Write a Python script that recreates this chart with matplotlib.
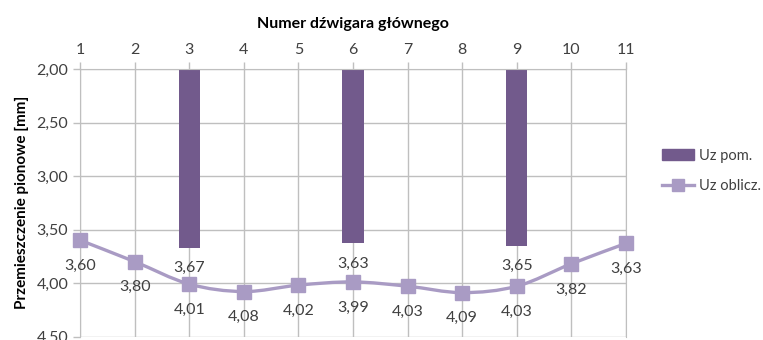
import numpy as np
import matplotlib.pyplot as plt
from matplotlib.path import Path
from matplotlib.patches import PathPatch, Patch
from matplotlib.lines import Line2D

plt.rcParams['font.family'] = ['Lato', 'DejaVu Sans']

girders = [1, 2, 3, 4, 5, 6, 7, 8, 9, 10, 11]
uz_calc = [3.60, 3.80, 4.01, 4.08, 4.02, 3.99, 4.03, 4.09, 4.03, 3.82, 3.63]
meas_girders = [3, 6, 9]
uz_meas = [3.67, 3.63, 3.65]

bar_color = '#725A8C'
line_color = '#A99BC4'
text_color = '#404040'
grid_color = '#BFBFBF'
y_min, y_max = 2.0, 4.5


def fmt(v):
    return f"{v:.2f}".replace('.', ',')


def smooth_path(xs, ys, t=1 / 6):
    # cubic Bezier through the points (Catmull-Rom style tangents)
    pts = np.column_stack([xs, ys]).astype(float)
    verts = [pts[0]]
    codes = [Path.MOVETO]
    n = len(pts)
    for i in range(n - 1):
        p0 = pts[i - 1] if i > 0 else pts[i]
        p1, p2 = pts[i], pts[i + 1]
        p3 = pts[i + 2] if i + 2 < n else pts[i + 1]
        verts += [p1 + (p2 - p0) * t, p2 - (p3 - p1) * t, p2]
        codes += [Path.CURVE4] * 3
    return Path(verts, codes)


fig = plt.figure(figsize=(7.63, 3.40), dpi=100)
ax = fig.add_axes([80 / 763, 1 - 336.5 / 340, (626 - 80) / 763, (336.5 - 69) / 340])

ax.bar(meas_girders, [v - y_min for v in uz_meas], bottom=y_min, width=0.39,
       color=bar_color, zorder=2)
for x, v in zip(meas_girders, uz_meas):
    ax.annotate(fmt(v), (x, v), xytext=(0, -14.5), textcoords='offset points',
                ha='center', va='center', fontsize=11.5, color=text_color)

ax.add_patch(PathPatch(smooth_path(girders, uz_calc), fill=False,
                       edgecolor=line_color, lw=2.4, zorder=3, clip_on=False))
ax.plot(girders, uz_calc, ls='none', marker='s', ms=9.5, color=line_color,
        zorder=4, clip_on=False)
for x, v in zip(girders, uz_calc):
    ax.annotate(fmt(v), (x, v), xytext=(0, -18.5), textcoords='offset points',
                ha='center', va='center', fontsize=11.5, color=text_color)

ax.set_xlim(1, 11)
ax.set_ylim(y_max, y_min)
ax.xaxis.tick_top()
ax.xaxis.set_label_position('top')
ax.set_xticks(girders, labels=[str(g) for g in girders])
yt = np.arange(2.0, 4.51, 0.5)
ax.set_yticks(yt, labels=[fmt(v) for v in yt])
ax.tick_params(axis='both', colors=grid_color, labelcolor=text_color,
               labelsize=11.5, length=5, width=1)
ax.grid(True, color=grid_color, lw=1, zorder=0)
ax.set_axisbelow(True)
for s in ax.spines.values():
    s.set_color(grid_color)
ax.spines['bottom'].set_visible(False)

ax.set_xlabel('Numer dźwigara głównego', fontsize=11.5, fontweight='bold',
              color='#000000', labelpad=11)
ax.set_ylabel('Przemieszczenie pionowe [mm]', fontsize=11, fontweight='bold',
              color='#000000', labelpad=5)

handles = [Patch(color=bar_color),
           Line2D([0], [0], color=line_color, lw=2.4, marker='s', ms=8)]
fig.legend(handles, ['Uz pom.', 'Uz oblicz.'], loc='center left',
           bbox_to_anchor=(662 / 763, 1 - 171 / 340), frameon=False,
           fontsize=10.5, labelspacing=1.15, handlelength=2.2,
           handletextpad=0.35, borderpad=0, borderaxespad=0,
           labelcolor=text_color)

fig.savefig('out.png', dpi=100)
